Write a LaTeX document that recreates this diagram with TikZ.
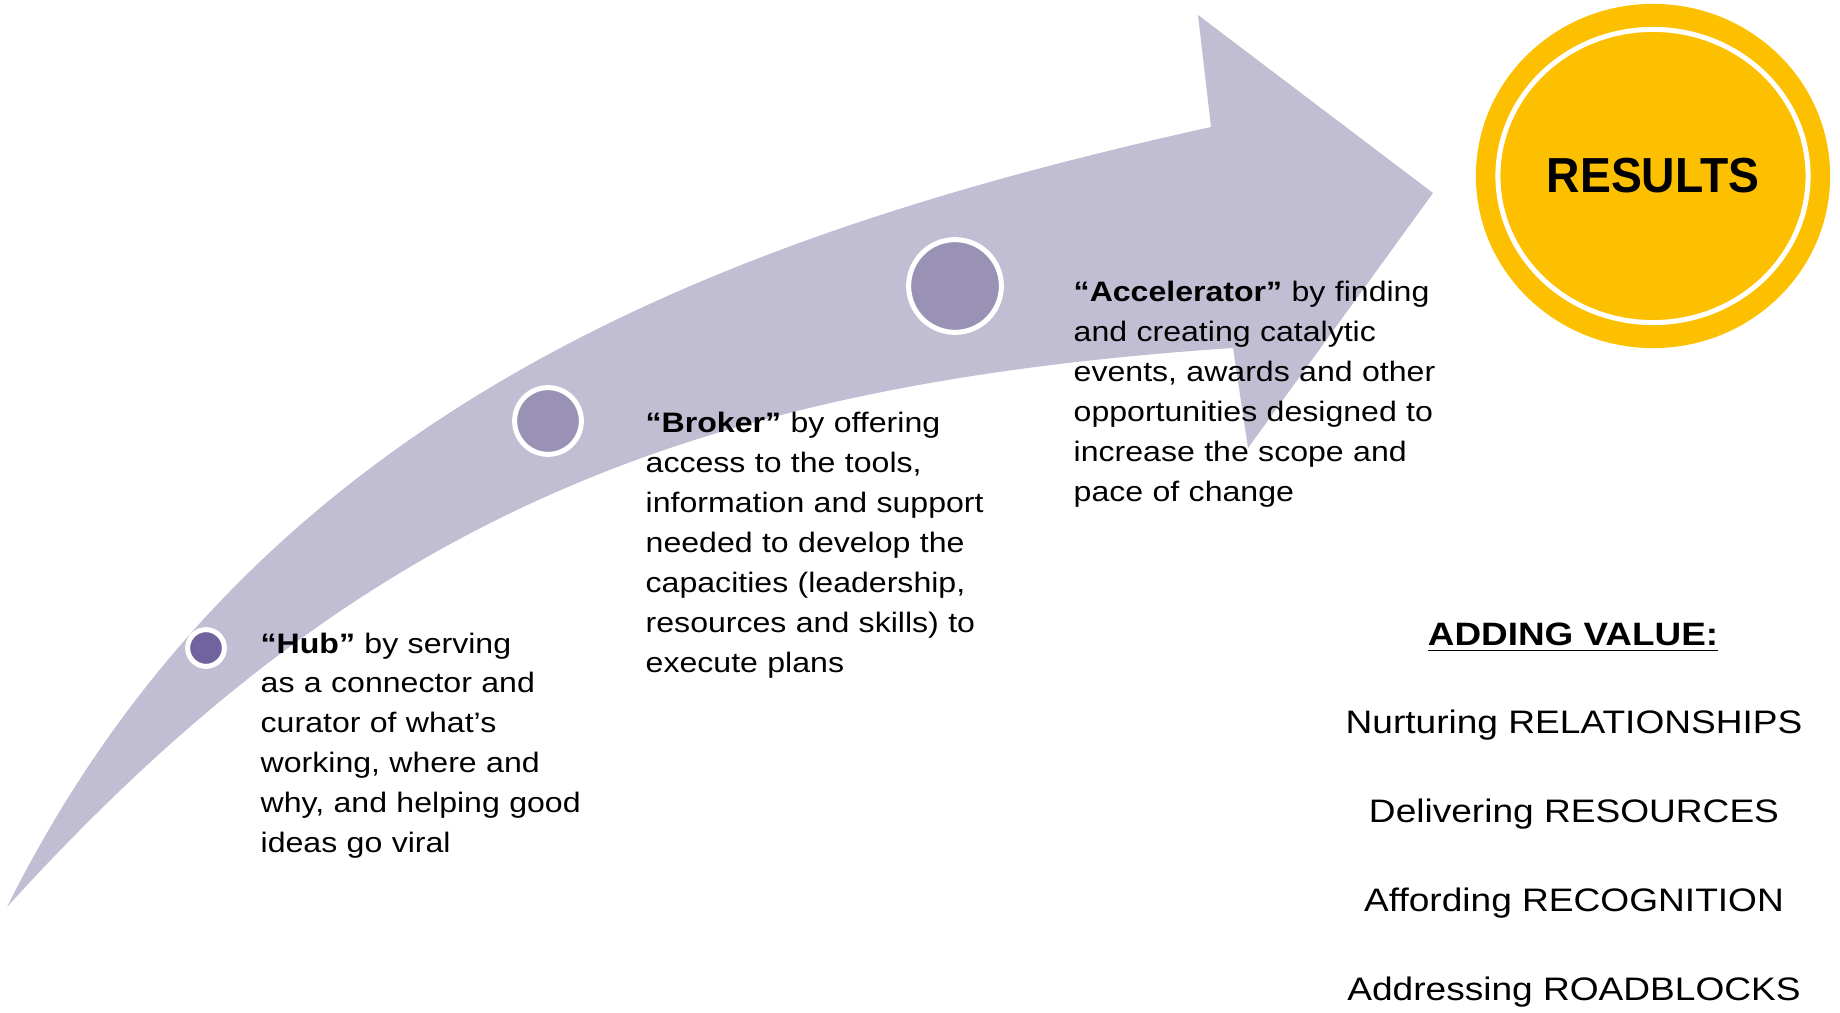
\documentclass[tikz,border=0pt]{standalone}
\usepackage{fontspec}
\setmainfont{Liberation Sans}[FakeStretch=1.14]
\newfontfamily\resultsfont{Liberation Sans}[FakeStretch=0.94]
\usetikzlibrary{shapes.geometric}

\definecolor{arrowgray}{RGB}{193,190,211}
\definecolor{hubpurple}{RGB}{112,99,160}
\definecolor{stagepurple}{RGB}{154,146,181}
\definecolor{resultgold}{RGB}{253,192,0}

\tikzset{
  stage/.style={circle,draw=white,line width=0.05cm,inner sep=0pt,outer sep=0pt},
  roletext/.style={anchor=base west,inner sep=0pt,text width=4cm,align=left,
    font=\fontsize{8}{11.35}\selectfont},
  valueitem/.style={anchor=base,inner sep=0pt,font=\fontsize{9.25}{10}\selectfont}
}

\begin{document}
\begin{tikzpicture}[x=0.01cm,y=-0.01cm]
  \useasboundingbox (0,0) rectangle (1840,1013);
  % the curved arrow
  \fill[arrowgray] (7,907) .. controls (250,420) and (700,240) .. (1211,127)
    -- (1198,15) -- (1433,193) -- (1248,448) -- (1233,348)
    .. controls (683,385) and (357,522) .. (7,907) -- cycle;

  \node[stage,fill=hubpurple,minimum size=0.367cm] (hub) at (206,648) {};
  \node[stage,fill=stagepurple,minimum size=0.667cm] (broker) at (548,421) {};
  \node[stage,fill=stagepurple,minimum size=0.927cm] (accel) at (955,286) {};

  \node[roletext] (hubtext) at (260,653)
    {\textbf{“Hub”} by serving\\ as a connector and\\ curator of what’s\\
     working, where and\\ why, and helping good\\ ideas go viral};
  \node[roletext] (brokertext) at (645,433)
    {\textbf{“Broker”} by offering\\ access to the tools,\\ information and support\\
     needed to develop the\\ capacities (leadership,\\ resources and skills) to\\ execute plans};
  \node[roletext] (acceltext) at (1073,302)
    {\textbf{“Accelerator”} by finding\\ and creating catalytic\\ events, awards and other\\
     opportunities designed to\\ increase the scope and\\ pace of change};

  % results
  \node[ellipse,fill=resultgold,inner sep=0pt,minimum width=3.54cm,minimum height=3.44cm]
    (results) at (1653,176) {};
  \node[ellipse,draw=white,line width=0.05cm,inner sep=0pt,minimum width=3.10cm,
    minimum height=2.93cm] (ring) at (results.center) {};
  \node[inner sep=0pt,font=\resultsfont\bfseries\fontsize{14}{16}\selectfont]
    (resultstext) at (results.center) {RESULTS};

  % adding value
  \node[valueitem,font=\bfseries\fontsize{9.2}{10}\selectfont] (header) at (1573,645)
    {\underline{ADDING VALUE:}};
  \node[valueitem] (rel) at (1574,733) {Nurturing RELATIONSHIPS};
  \node[valueitem] (res) at (1574,822) {Delivering RESOURCES};
  \node[valueitem] (rec) at (1574,911) {Affording RECOGNITION};
  \node[valueitem] (road) at (1574,1000) {Addressing ROADBLOCKS};
\end{tikzpicture}
\end{document}
